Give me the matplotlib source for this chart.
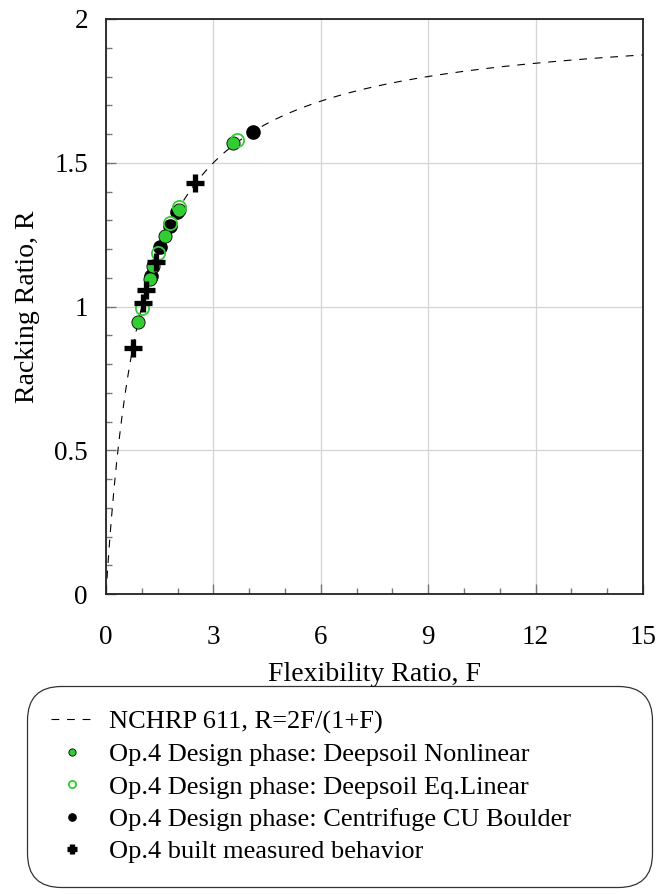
import numpy as np
import matplotlib
matplotlib.use("Agg")
import matplotlib.pyplot as plt
from matplotlib.ticker import MultipleLocator

plt.rcParams["font.family"] = ["Liberation Serif", "DejaVu Serif"]
plt.rcParams["mathtext.fontset"] = "stix"

# Op.4 design phase: Deepsoil nonlinear (green filled)
nl_F = [0.90, 1.23, 1.32, 1.65, 2.03, 3.55]
nl_R = [0.947, 1.097, 1.14, 1.246, 1.336, 1.569]
# Deepsoil equivalent linear (green hollow)
el_F = [1.01, 1.45, 1.80, 2.04, 3.65]
el_R = [0.996, 1.185, 1.289, 1.345, 1.58]
# Centrifuge CU Boulder (black)
cu_F = [1.25, 1.52, 1.79, 1.99, 4.10]
cu_R = [1.106, 1.208, 1.28, 1.329, 1.608]
# built measured behaviour (crosses)
ms_F = [0.76, 1.04, 1.13, 1.39, 2.49]
ms_R = [0.855, 1.013, 1.057, 1.156, 1.43]

x_ticks = [0, 3, 6, 9, 12, 15]
y_ticks = [0, 0.5, 1, 1.5, 2]
y_labels = ["0", "0.5", "1", "1.5", "2"]

F = np.linspace(0.0, 15, 600)
R = 2 * F / (1 + F)

fig = plt.figure(figsize=(6.63, 8.94), dpi=100)
ax = fig.add_axes([106 / 663, 1 - 594 / 894, (643 - 106) / 663, (594 - 19) / 894])

ax.plot(F, R, color="black", lw=0.8, dashes=(7, 7), label="NCHRP 611, R=2F/(1+F)", zorder=2)
ax.plot(nl_F, nl_R, "o", ms=9.5, mfc="#33cc33", mec="black", mew=0.6, zorder=3,
        label="Op.4 Design phase: Deepsoil Nonlinear")
ax.plot(el_F, el_R, "o", ms=9.5, mfc="none", mec="#33cc33", mew=1.3, zorder=4,
        label="Op.4 Design phase: Deepsoil Eq.Linear")
ax.plot(cu_F, cu_R, "o", ms=9.5, mfc="black", mec="black", zorder=2.5,
        label="Op.4 Design phase: Centrifuge CU Boulder")
ax.plot(ms_F, ms_R, "+", ms=13, mec="black", mew=3.8, zorder=5,
        label="Op.4 built measured behavior")

ax.set_xlim(0, 15)
ax.set_ylim(0, 2)
ax.set_xticks(x_ticks)
ax.set_xticklabels([str(v) for v in x_ticks])
ax.set_yticks(y_ticks)
ax.set_yticklabels(y_labels)
ax.xaxis.set_minor_locator(MultipleLocator(1))
ax.yaxis.set_minor_locator(MultipleLocator(0.1))
ax.grid(True, which="major", color="#d4d4d4", lw=0.9)
ax.tick_params(which="both", direction="in", color="#777777", labelsize=19.5)
ax.tick_params(which="major", length=7, width=1)
ax.tick_params(which="minor", length=4, width=1)
ax.tick_params(axis="x", pad=22)
ax.tick_params(axis="y", pad=13)
for s in ax.spines.values():
    s.set_color("#222222")
    s.set_linewidth(1.3)

ax.set_xlabel("Flexibility Ratio, F", fontsize=20, labelpad=9)
ax.set_ylabel("Racking Ratio, R", fontsize=20, labelpad=10)

h, l = ax.get_legend_handles_labels()
leg = fig.legend(h, l, loc="upper left",
                 bbox_to_anchor=(27 / 663, 4 / 894, (652 - 27) / 663, (890 - 686) / 894),
                 mode="expand", fontsize=19, markerscale=0.55, frameon=True,
                 fancybox=True, edgecolor="black", labelspacing=0.34,
                 handlelength=1.6, handletextpad=0.6, borderpad=0.9, borderaxespad=0)
leg.get_frame().set_linewidth(0.9)
leg.get_frame().set_boxstyle("round", pad=0, rounding_size=1.3)

fig.savefig("out.png", dpi=100)
